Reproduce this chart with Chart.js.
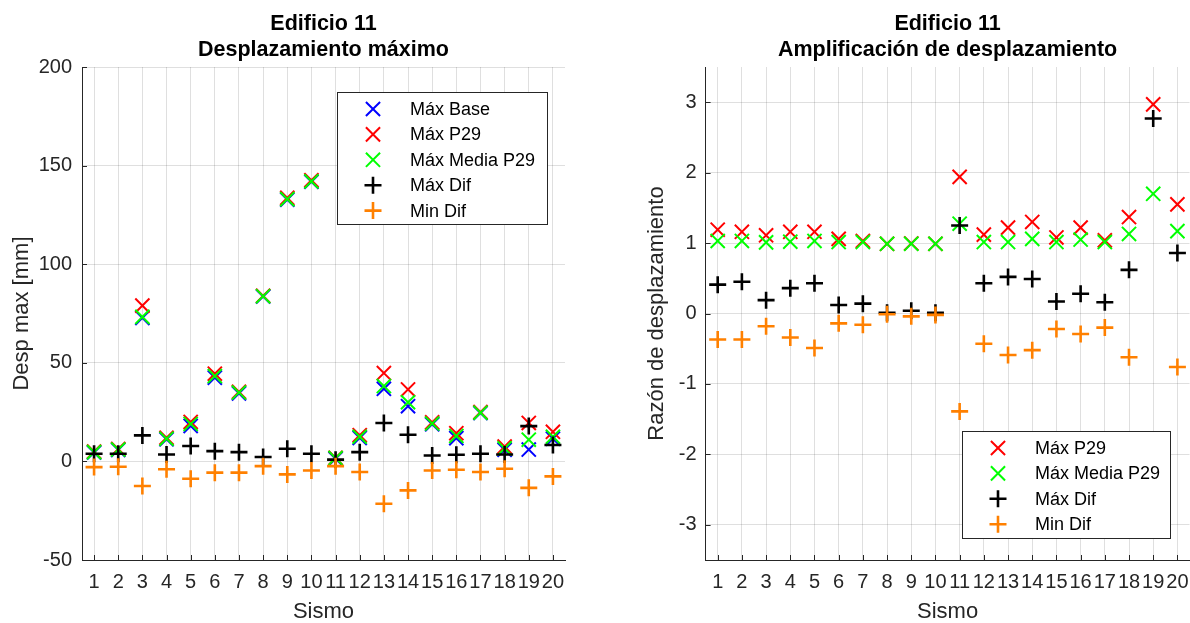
<!DOCTYPE html>
<html>
<head>
<meta charset="utf-8">
<title>Edificio 11</title>
<script src="https://cdn.jsdelivr.net/npm/chart.js@4.4.1/dist/chart.umd.min.js"></script>
<style>
    html, body { margin: 0; padding: 0; background: #ffffff; }
    #wrap { position: relative; width: 1190px; height: 623px; overflow: hidden; }
    #despChart { position: absolute; left: 0; top: 0; }
    #ampChart { position: absolute; left: 620px; top: 0; }
</style>
</head>
<body>
<div id="wrap">
    <canvas id="despChart" width="595" height="623"></canvas>
    <canvas id="ampChart" width="570" height="623"></canvas>
</div>
<script>
// datos
const sismos = [1, 2, 3, 4, 5, 6, 7, 8, 9, 10, 11, 12, 13, 14, 15, 16, 17, 18, 19, 20];

// Desplazamiento máximo [mm]
const despMaxBase = [4.5, 5.8, 72.8, 11.2, 18, 42.5, 34.5, 83.6, 132.7, 141.8, 1.3, 11.9, 36.8, 28, 18.8, 11.8, 24.5, 5.9, 6, 11.5];
const despMaxP29 = [5, 6.3, 79, 12, 20, 44.5, 35.3, 84, 133.7, 142.6, 1.8, 13.3, 44.8, 36.5, 19.8, 14.3, 25, 7.5, 19.5, 15];
const despMaxMedia = [4.7, 6, 73.3, 11.5, 19, 43.3, 34.9, 83.8, 133, 142, 1.7, 12.5, 38.2, 30, 19.2, 12.9, 24.7, 6.6, 11, 12.5];
const despMaxDif = [3.9, 3.9, 13.2, 3.5, 7.8, 5.2, 4.7, 2.2, 6.4, 3.9, 0.9, 4.7, 19.5, 13.5, 3, 3.4, 3.9, 3.5, 17.9, 8.3];
const despMinDif = [-2.9, -2.7, -12.5, -4, -8.8, -5.7, -5.7, -2.4, -6.6, -4.6, -2.4, -5.4, -21.5, -14.7, -4.6, -4.2, -5.4, -3.7, -13.4, -7.6];

// Amplificación de desplazamiento (razón)
const ampMaxP29 = [1.19, 1.16, 1.11, 1.16, 1.16, 1.06, 1.03, 0.99, 0.995, 0.99, 1.94, 1.12, 1.22, 1.30, 1.08, 1.22, 1.04, 1.37, 2.97, 1.55];
const ampMaxMedia = [1.03, 1.03, 1.01, 1.02, 1.03, 1.015, 1.015, 0.99, 0.99, 0.99, 1.275, 1.015, 1.015, 1.06, 1.015, 1.05, 1.015, 1.13, 1.70, 1.17];
const ampMaxDif = [0.41, 0.45, 0.19, 0.36, 0.43, 0.12, 0.14, 0.01, 0.04, 0.01, 1.25, 0.43, 0.52, 0.49, 0.17, 0.28, 0.16, 0.62, 2.77, 0.86];
const ampMinDif = [-0.37, -0.37, -0.18, -0.34, -0.49, -0.14, -0.16, -0.01, -0.04, -0.02, -1.39, -0.43, -0.59, -0.52, -0.22, -0.29, -0.20, -0.62, null, -0.76];

// ticks
const xTicks = sismos;
const despTicks = [-50, 0, 50, 100, 150, 200];
const ampTicks = [-3, -2, -1, 0, 1, 2, 3];

const AXIS_COLOR = '#262626';
const GRID_COLOR = 'rgba(38,38,38,0.15)';
const FONT = '"Liberation Sans", Arial, Helvetica, sans-serif';

Chart.defaults.font.family = FONT;
Chart.defaults.color = AXIS_COLOR;

function toPoints(values) {
    return sismos.map(function(s, i) {
        return { x: s, y: values[i] };
    });
}

function serie(label, values, color, style, order) {
    const isX = style === 'crossRot';
    return {
        label: label,
        data: toPoints(values),
        pointStyle: style,
        pointRadius: isX ? 10 : 8.5,
        pointHoverRadius: isX ? 10 : 8.5,
        borderColor: color,
        backgroundColor: color,
        pointBorderWidth: isX ? 2 : 2.6,
        borderWidth: isX ? 2 : 2.6,
        showLine: false,
        order: order
    };
}

function drawMarker(ctx, style, x, y, r, color, width) {
    ctx.save();
    ctx.strokeStyle = color;
    ctx.lineWidth = width;
    ctx.beginPath();
    if (style === 'crossRot') {
        const d = r * Math.SQRT1_2;
        ctx.moveTo(x - d, y - d); ctx.lineTo(x + d, y + d);
        ctx.moveTo(x - d, y + d); ctx.lineTo(x + d, y - d);
    } else {
        ctx.moveTo(x - r, y); ctx.lineTo(x + r, y);
        ctx.moveTo(x, y - r); ctx.lineTo(x, y + r);
    }
    ctx.stroke();
    ctx.restore();
}

// leyenda con caja, como en MATLAB
function boxLegend(box) {
    return {
        id: 'boxLegend',
        afterDatasetsDraw: function(chart) {
            const ctx = chart.ctx;
            const sets = chart.data.datasets;
            ctx.save();
            ctx.fillStyle = '#ffffff';
            ctx.fillRect(box.x, box.y, box.w, box.h);
            ctx.strokeStyle = AXIS_COLOR;
            ctx.lineWidth = 1;
            ctx.strokeRect(box.x + 0.5, box.y + 0.5, box.w, box.h);
            ctx.font = '18px ' + FONT;
            ctx.textBaseline = 'middle';
            ctx.textAlign = 'left';
            ctx.fillStyle = '#000000';
            sets.forEach(function(ds, i) {
                const cy = box.y + 17 + i * 25.4;
                drawMarker(ctx, ds.pointStyle, box.x + 36, cy, ds.pointStyle === 'crossRot' ? 10 : 8.5, ds.borderColor, ds.borderWidth);
                ctx.fillText(ds.label, box.x + 73, cy + 1);
            });
            ctx.restore();
        }
    };
}

// marcas de ticks hacia adentro
const innerTicks = {
    id: 'innerTicks',
    afterDraw: function(chart) {
        const ctx = chart.ctx;
        const area = chart.chartArea;
        const xs = chart.scales.x;
        const ys = chart.scales.y;
        ctx.save();
        ctx.strokeStyle = AXIS_COLOR;
        ctx.lineWidth = 1;
        ctx.beginPath();
        xs.ticks.forEach(function(t) {
            const px = Math.round(xs.getPixelForValue(t.value)) + 0.5;
            ctx.moveTo(px, area.bottom);
            ctx.lineTo(px, area.bottom - 5);
        });
        ys.ticks.forEach(function(t) {
            const py = Math.round(ys.getPixelForValue(t.value)) + 0.5;
            ctx.moveTo(area.left, py);
            ctx.lineTo(area.left + 5, py);
        });
        ctx.stroke();
        ctx.restore();
    }
};

function makeChart(id, cfg) {
    const canvas = document.getElementById(id);
    const ctx = canvas.getContext('2d');
    return new Chart(ctx, {
        type: 'scatter',
        data: { datasets: cfg.datasets },
        options: {
            responsive: false,
            animation: false,
            layout: {
                autoPadding: false,
                padding: { left: 0, right: cfg.padRight, top: 0, bottom: 0 }
            },
            plugins: {
                legend: { display: false },
                tooltip: { enabled: false },
                title: {
                    display: true,
                    fullSize: false,
                    text: cfg.title,
                    color: '#000000',
                    font: { size: 21.5, weight: 'bold', lineHeight: 1.21 },
                    padding: { top: 11, bottom: 4 }
                }
            },
            scales: {
                x: {
                    type: 'linear',
                    min: 0.5,
                    max: 20.5,
                    afterBuildTicks: function(scale) {
                        scale.ticks = xTicks.map(function(v) { return { value: v }; });
                    },
                    afterFit: function(scale) {
                        scale.height = 63;
                        scale.paddingLeft = 0;
                        scale.paddingRight = 0;
                    },
                    ticks: {
                        autoSkip: false,
                        maxRotation: 0,
                        padding: 10,
                        color: AXIS_COLOR,
                        font: { size: 20 }
                    },
                    grid: { color: GRID_COLOR, drawTicks: false },
                    border: { color: AXIS_COLOR, width: 1 },
                    title: {
                        display: true,
                        text: 'Sismo',
                        color: AXIS_COLOR,
                        font: { size: 22, lineHeight: 1 },
                        padding: { top: 0, bottom: 0 }
                    }
                },
                y: {
                    type: 'linear',
                    min: cfg.yMin,
                    max: cfg.yMax,
                    afterBuildTicks: function(scale) {
                        scale.ticks = cfg.yTicks.map(function(v) { return { value: v }; });
                    },
                    afterFit: function(scale) {
                        scale.width = cfg.yWidth;
                        scale.paddingTop = 0;
                        scale.paddingBottom = 0;
                    },
                    ticks: {
                        padding: cfg.tickPad,
                        color: AXIS_COLOR,
                        font: { size: 20 }
                    },
                    grid: { color: GRID_COLOR, drawTicks: false },
                    border: { color: AXIS_COLOR, width: 1 },
                    title: {
                        display: true,
                        text: cfg.yTitle,
                        color: AXIS_COLOR,
                        font: { size: 22, lineHeight: 1 },
                        padding: { top: cfg.yTitlePad, bottom: 0 }
                    }
                }
            }
        },
        plugins: [innerTicks, boxLegend(cfg.legendBox)]
    });
}

document.addEventListener('DOMContentLoaded', function() {
    makeChart('despChart', {
        title: ['Edificio 11', 'Desplazamiento máximo'],
        yTitle: 'Desp max [mm]',
        yMin: -50,
        yMax: 200,
        yTicks: despTicks,
        yWidth: 82,
        tickPad: 10,
        yTitlePad: 11,
        padRight: 30,
        legendBox: { x: 337, y: 92, w: 210, h: 132 },
        datasets: [
            serie('Máx Base', despMaxBase, '#0000ff', 'crossRot', 4),
            serie('Máx P29', despMaxP29, '#ff0000', 'crossRot', 3),
            serie('Máx Media P29', despMaxMedia, '#00ff00', 'crossRot', 2),
            serie('Máx Dif', despMaxDif, '#000000', 'cross', 1),
            serie('Min Dif', despMinDif, '#ff8000', 'cross', 0)
        ]
    });

    makeChart('ampChart', {
        title: ['Edificio 11', 'Amplificación de desplazamiento'],
        yTitle: 'Razón de desplazamiento',
        yMin: -3.5,
        yMax: 3.5,
        yTicks: ampTicks,
        yWidth: 85.6,
        tickPad: 9,
        yTitlePad: 26,
        padRight: 0.5,
        legendBox: { x: 342, y: 431, w: 208, h: 107 },
        datasets: [
            serie('Máx P29', ampMaxP29, '#ff0000', 'crossRot', 3),
            serie('Máx Media P29', ampMaxMedia, '#00ff00', 'crossRot', 2),
            serie('Máx Dif', ampMaxDif, '#000000', 'cross', 1),
            serie('Min Dif', ampMinDif, '#ff8000', 'cross', 0)
        ]
    });
});
</script>
</body>
</html>
